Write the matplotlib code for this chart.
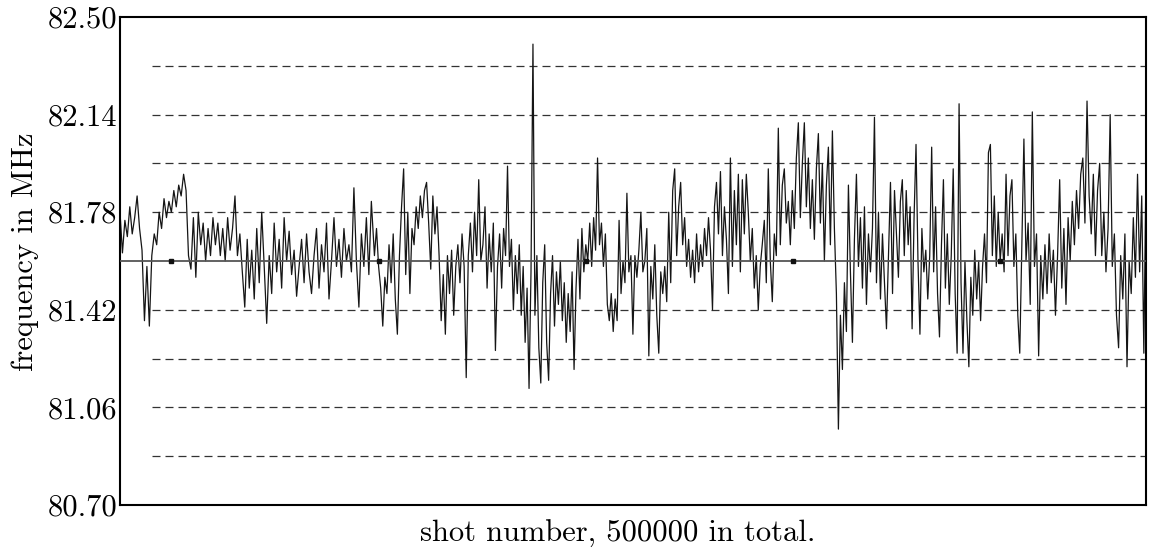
import numpy as np
import matplotlib
matplotlib.use('Agg')
import matplotlib.pyplot as plt

plt.rcParams['font.family'] = ['cmr10', 'DejaVu Serif']
plt.rcParams['axes.formatter.use_mathtext'] = True

# measured frequency, one list per stretch of shots
seg_shots = [(0, 62000), (63000, 122500), (124000, 185000), (186000, 248000),
             (249000, 313000), (314000, 375500), (376500, 438500), (439500, 500000)]

freq_1 = [81.78, 81.63, 81.75, 81.69, 81.80, 81.70, 81.76, 81.84, 81.72, 81.64,
          81.38, 81.58, 81.36, 81.62, 81.70, 81.66, 81.78, 81.72, 81.83, 81.76,
          81.82, 81.78, 81.86, 81.80, 81.88, 81.84, 81.92, 81.86, 81.62, 81.57,
          81.76, 81.54, 81.78, 81.66, 81.74, 81.60, 81.72, 81.62, 81.76, 81.66,
          81.74, 81.62, 81.72, 81.60, 81.76, 81.64, 81.72, 81.84, 81.62, 81.70,
          81.56, 81.43, 81.68]
freq_2 = [81.50, 81.64, 81.46, 81.72, 81.52, 81.78, 81.58, 81.37, 81.62, 81.48,
          81.74, 81.56, 81.68, 81.50, 81.76, 81.60, 81.71, 81.55, 81.64, 81.47,
          81.58, 81.68, 81.52, 81.70, 81.56, 81.48, 81.62, 81.72, 81.50, 81.66,
          81.56, 81.74, 81.46, 81.60, 81.76, 81.58, 81.68, 81.54, 81.72, 81.60,
          81.66, 81.56, 81.87, 81.60, 81.43, 81.70, 81.58, 81.76, 81.55, 81.82]
freq_3 = [81.62, 81.72, 81.58, 81.50, 81.36, 81.54, 81.48, 81.66, 81.52, 81.70,
          81.46, 81.33, 81.62, 81.80, 81.94, 81.55, 81.78, 81.48, 81.72, 81.66,
          81.80, 81.72, 81.84, 81.76, 81.86, 81.89, 81.74, 81.57, 81.84, 81.70,
          81.80, 81.62, 81.38, 81.55, 81.33, 81.62, 81.48, 81.64, 81.40, 81.58,
          81.66, 81.52, 81.70, 81.58, 81.17, 81.62, 81.74, 81.56, 81.78, 81.62,
          81.90, 81.60, 81.66, 81.80, 81.50, 81.70, 81.56, 81.74, 81.27, 81.58,
          81.70]
freq_4 = [81.50, 81.72, 81.62, 81.95, 81.58, 81.68, 81.42, 81.62, 81.48, 81.66,
          81.40, 81.58, 81.30, 81.50, 81.13, 81.56, 82.40, 81.40, 81.62, 81.28,
          81.15, 81.52, 81.66, 81.30, 81.16, 81.48, 81.62, 81.36, 81.56, 81.44,
          81.60, 81.38, 81.52, 81.30, 81.48, 81.34, 81.56, 81.20, 81.50, 81.68,
          81.46, 81.72, 81.56, 81.66, 81.60, 81.74, 81.58, 81.76, 81.64, 81.98,
          81.66, 81.74, 81.58, 81.70, 81.44, 81.38, 81.48, 81.34, 81.46, 81.38,
          81.75, 81.48, 81.60, 81.52, 81.85, 81.56]
freq_5 = [81.62, 81.33, 81.62, 81.54, 81.64, 81.78, 81.56, 81.60, 81.72, 81.25,
          81.58, 81.46, 81.66, 81.40, 81.26, 81.56, 81.48, 81.58, 81.45, 81.78,
          81.52, 81.86, 81.94, 81.62, 81.80, 81.89, 81.66, 81.76, 81.58, 81.68,
          81.54, 81.64, 81.52, 81.70, 81.56, 81.66, 81.58, 81.72, 81.62, 81.76,
          81.64, 81.42, 81.80, 81.89, 81.70, 81.93, 81.62, 81.80, 81.68, 81.48,
          81.98, 81.58, 81.86, 81.66, 81.92, 81.56, 81.90, 81.70, 81.92, 81.78,
          81.60, 81.72, 81.50, 81.62, 81.42, 81.58, 81.66]
freq_6 = [81.75, 81.52, 81.94, 81.60, 81.45, 81.70, 81.62, 82.09, 81.66, 81.88,
          81.94, 81.74, 81.82, 81.66, 81.86, 81.72, 81.98, 82.11, 81.76, 81.96,
          82.11, 81.80, 81.98, 81.72, 81.90, 81.68, 81.94, 82.07, 81.74, 81.96,
          81.60, 81.88, 82.02, 81.66, 82.08, 81.72, 81.48, 80.98, 81.40, 81.20,
          81.52, 81.34, 81.88, 81.56, 81.30, 81.68, 81.92, 81.58, 81.76, 81.50,
          81.80, 81.44, 81.70, 81.56, 81.72, 82.13, 81.52, 81.78, 81.46, 81.70,
          81.52, 81.35, 81.62, 81.89]
freq_7 = [81.48, 81.86, 81.70, 81.54, 81.82, 81.90, 81.62, 81.86, 81.66, 81.80,
          81.35, 81.76, 82.03, 81.60, 81.33, 81.72, 81.56, 81.64, 81.46, 81.62,
          82.02, 81.56, 81.80, 81.48, 81.32, 81.66, 81.90, 81.50, 81.70, 81.44,
          81.62, 81.94, 81.48, 81.26, 82.18, 81.52, 81.26, 81.60, 81.38, 81.21,
          81.54, 81.40, 81.64, 81.46, 81.60, 81.38, 81.58, 81.70, 81.52, 82.00,
          82.03, 81.62, 81.84, 81.58, 81.78, 81.60, 81.70, 81.56, 81.92, 81.62,
          81.84, 81.90, 81.58, 81.70, 81.40, 81.26]
freq_8 = [81.66, 82.05, 81.60, 81.74, 81.44, 82.15, 81.58, 81.70, 81.25, 81.62,
          81.46, 81.66, 81.48, 81.70, 81.52, 81.64, 81.40, 81.62, 81.90, 81.50,
          81.72, 81.44, 81.76, 81.60, 81.82, 81.66, 81.86, 81.72, 81.92, 81.98,
          81.74, 82.19, 81.84, 81.70, 81.92, 81.62, 81.86, 81.96, 81.62, 81.78,
          81.56, 81.72, 82.14, 81.58, 81.70, 81.40, 81.28, 81.62, 81.46, 81.70,
          81.21, 81.60, 81.48, 81.76, 81.54, 81.92, 81.56, 81.84, 81.26, 81.92]

mean_freq = 81.60
marker_shots = [25000, 126000, 227000, 328000, 429000]
grid_levels = [80.88, 81.06, 81.24, 81.42, 81.78, 81.96, 82.14, 82.32]
y_ticks = [80.70, 81.06, 81.42, 81.78, 82.14, 82.50]

segments = [freq_1, freq_2, freq_3, freq_4, freq_5, freq_6, freq_7, freq_8]
shots = np.concatenate([np.linspace(a, b, len(s)) for (a, b), s in zip(seg_shots, segments)])
freq = np.concatenate(segments)

fig = plt.figure(figsize=(11.56, 5.49), dpi=100)
ax = fig.add_axes([0.1038, 0.0801, 0.8875, 0.8889])

for lev in grid_levels:
    ax.hlines(lev, 15600, 500000, colors='#333333', lw=0.9,
              linestyles=(0, (6.4, 4.0)), zorder=1)

ax.plot(shots, freq, color='#151515', lw=0.9, zorder=2)
ax.axhline(mean_freq, color='#555555', lw=1.3, zorder=3)
ax.plot(marker_shots, [mean_freq] * len(marker_shots), 's', color='#111111',
        ms=3.5, zorder=4)

ax.set_xlim(0, 500000)
ax.set_ylim(80.70, 82.50)
ax.set_yticks(y_ticks)
ax.set_yticklabels([f'{v:.2f}' for v in y_ticks])
ax.set_xticks([])
ax.tick_params(axis='y', length=0, pad=2, labelsize=22)
for sp in ax.spines.values():
    sp.set_linewidth(1.5)

ax.set_ylabel('frequency in MHz', fontsize=22)
ax.set_xlabel('shot number, 500000 in total.', fontsize=22)
ax.yaxis.set_label_coords(-0.079, 0.52)
ax.xaxis.set_label_coords(0.485, -0.03)

fig.savefig('out.png', dpi=100)
